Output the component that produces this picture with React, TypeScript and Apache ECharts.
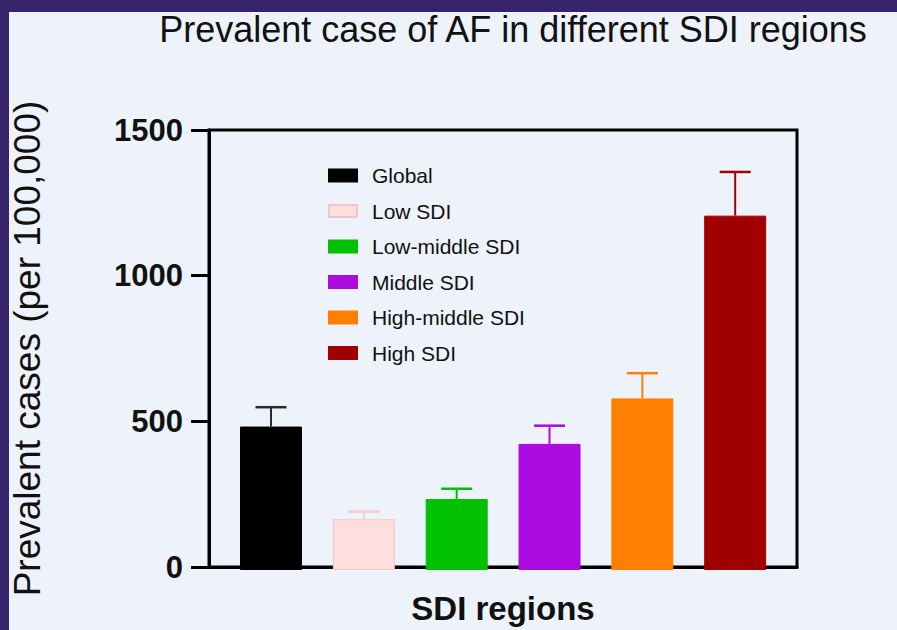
import React, { useEffect, useRef } from "react";
import * as echarts from "echarts";

const categories = ["Global", "Low SDI", "Low-middle SDI", "Middle SDI", "High-middle SDI", "High SDI"];
const means = [489, 173, 242, 430, 585, 1208];
const uppers = [555, 199, 277, 492, 671, 1357];
const barColors = ["#000000", "#ffdede", "#00c000", "#ad0ae0", "#ff8000", "#a10000"];
const errColors = ["#2a2a2a", "#f6cccc", "#00c000", "#ad0ae0", "#ff8000", "#a10000"];
const yTicks = { min: 0, max: 1500, interval: 500 };

const FONT = 'Arial, "Liberation Sans", sans-serif';

export default function App() {
  const ref = useRef<HTMLDivElement>(null);
  useEffect(() => {
    if (!ref.current) return;
    const chart = echarts.init(ref.current, null, { renderer: "svg" });

    const barSeries = categories.map((name, i) => ({
      name,
      type: "bar",
      xAxisIndex: 1,
      yAxisIndex: 1,
      stack: "all",
      barWidth: 62,
      itemStyle: {
        color: barColors[i],
        borderColor: i === 1 ? "#f2c6c6" : barColors[i],
        borderWidth: 1,
      },
      data: categories.map((_, j) => (j === i ? means[i] : null)),
      z: 2,
    }));

    const errSeries = {
      type: "custom",
      xAxisIndex: 1,
      yAxisIndex: 1,
      data: categories.map((_, i) => [i, means[i], uppers[i]]),
      renderItem: (params: any, api: any) => {
        const idx = api.value(0);
        const lo = api.coord([idx, api.value(1)]);
        const hi = api.coord([idx, api.value(2)]);
        const half = 15.5;
        const color = errColors[params.dataIndex];
        return {
          type: "group",
          children: [
            { type: "line", shape: { x1: lo[0], y1: lo[1], x2: hi[0], y2: hi[1] }, style: { stroke: color, lineWidth: 2 } },
            { type: "line", shape: { x1: hi[0] - half, y1: hi[1], x2: hi[0] + half, y2: hi[1] }, style: { stroke: color, lineWidth: 2.5 } },
          ],
        };
      },
      z: 3,
    };

    chart.setOption({
      animation: false,
      backgroundColor: "#eef2fa",
      textStyle: { fontFamily: FONT },
      graphic: [
        { type: "rect", shape: { x: 0, y: 0, width: 897, height: 12 }, style: { fill: "#36246b" }, z: 100 },
        { type: "rect", shape: { x: 0, y: 0, width: 9, height: 630 }, style: { fill: "#36246b" }, z: 100 },
      ],
      title: {
        text: "Prevalent case of AF in different SDI regions",
        left: 508,
        textAlign: "center",
        top: 6,
        textStyle: { fontFamily: FONT, fontSize: 36, fontWeight: "normal", color: "#111" },
      },
      legend: {
        data: categories,
        orient: "vertical",
        left: 328,
        top: 165,
        padding: 0,
        itemWidth: 28,
        itemHeight: 12,
        itemGap: 14.5,
        icon: "rect",
        selectedMode: false,
        textStyle: { fontFamily: FONT, fontSize: 21, color: "#111", padding: [0, 0, 0, 10] },
      },
      grid: [
        { left: 209, top: 130, width: 588, height: 440, show: true, borderColor: "#000", borderWidth: 3, backgroundColor: "transparent" },
        { left: 224.6, top: 130, width: 557, height: 440 },
      ],
      xAxis: [
        {
          gridIndex: 0,
          type: "category",
          data: [""],
          boundaryGap: true,
          axisLine: { lineStyle: { color: "#000", width: 3 } },
          axisTick: { alignWithLabel: true, length: 17, lineStyle: { color: "#000", width: 3 } },
          axisLabel: { show: false },
          name: "SDI regions",
          nameLocation: "middle",
          nameGap: 25,
          nameTextStyle: { fontFamily: FONT, fontSize: 33, fontWeight: "bold", color: "#111", verticalAlign: "top" },
        },
        {
          gridIndex: 1,
          type: "category",
          data: categories,
          show: false,
        },
      ],
      yAxis: [
        {
          gridIndex: 0,
          type: "value",
          min: yTicks.min,
          max: yTicks.max,
          interval: yTicks.interval,
          splitLine: { show: false },
          axisLine: { show: true, lineStyle: { color: "#000", width: 3 } },
          axisTick: { show: true, length: 18, lineStyle: { color: "#000", width: 3 } },
          axisLabel: {
            margin: 26,
            fontFamily: FONT,
            fontSize: 31,
            fontWeight: "bold",
            color: "#111",
            formatter: (v: number) => String(v),
          },
          name: "Prevalent cases (per 100,000)",
          nameLocation: "middle",
          nameGap: 163,
          nameTextStyle: { fontFamily: FONT, fontSize: 37, color: "#111" },
        },
        {
          gridIndex: 1,
          type: "value",
          min: yTicks.min,
          max: yTicks.max,
          show: false,
          splitLine: { show: false },
        },
      ],
      series: [...barSeries, errSeries],
    });
    return () => chart.dispose();
  }, []);
  return <div ref={ref} style={{ position: "fixed", left: 0, top: 0, width: 897, height: 630 }} />;
}
